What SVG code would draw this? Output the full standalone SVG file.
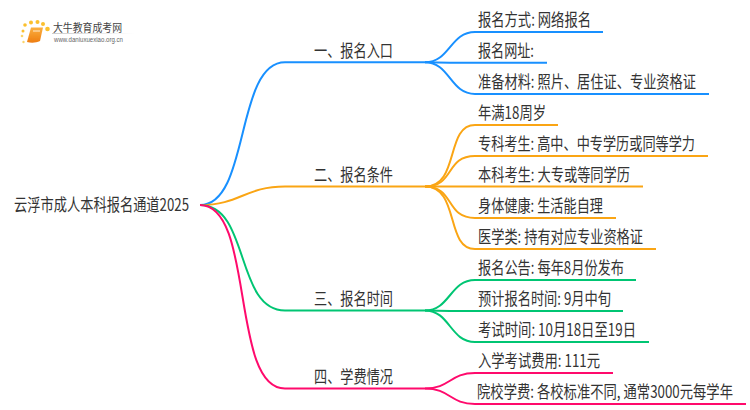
<svg xmlns="http://www.w3.org/2000/svg" width="750" height="410" viewBox="0 0 750 410">
<style>
text{font-family:"Noto Sans CJK SC","Noto Sans",sans-serif;fill:#333;font-size:17px}
.c{fill:none;stroke-width:2}
.b{stroke:#1890ff}.o{stroke:#faa514}.g{stroke:#00c573}.p{stroke:#ff0a6c}
</style>
<defs>
<linearGradient id="bk" x1="0" y1="0" x2="0" y2="1"><stop offset="0" stop-color="#fbb040"/><stop offset="1" stop-color="#ee7d11"/></linearGradient>
<linearGradient id="fade" x1="0" y1="0" x2="1" y2="0"><stop offset="0" stop-color="#ccc"/><stop offset="1" stop-color="#fff"/></linearGradient>
<filter id="soft" x="-10%" y="-10%" width="120%" height="120%"><feGaussianBlur stdDeviation="0.45"/></filter>
</defs>
<rect width="750" height="410" fill="#fff"/>
<g id="connectors">
<path class="c b" d="M200 205C250 205 235 62.300 285 62.300H425"/>
<path class="c o" d="M200 205C240 205 245 186.500 285 186.500H425"/>
<path class="c g" d="M200 205C250 205 235 310.500 285 310.500H425"/>
<path class="c p" d="M200 205C255 205 230 388.500 285 388.500H425"/>
<path class="c b" d="M425 62.300C450 62.300 450 32 475 32H603"/>
<path class="c b" d="M425 62.300Q450 62.800 475 62.800H547"/>
<path class="c b" d="M425 62.300C450 62.300 450 94 475 94H709"/>
<path class="c o" d="M425 186.500C460 186.500 445 125 475 125H558"/>
<path class="c o" d="M425 186.500C455 186.500 445 156 475 156H708"/>
<path class="c o" d="M425 186.500H643"/>
<path class="c o" d="M425 186.500C455 186.500 445 218 475 218H616"/>
<path class="c o" d="M425 186.500C460 186.500 445 249 475 249H656"/>
<path class="c g" d="M425 310.500C450 310.500 450 280 475 280H636"/>
<path class="c g" d="M425 310.500Q450 311 475 311H623"/>
<path class="c g" d="M425 310.500C450 310.500 450 342 475 342H649"/>
<path class="c p" d="M425 388.500C450 388.500 450 373 475 373H613"/>
<path class="c p" d="M425 388.500C450 388.500 450 404 475 404H746"/>
</g>
<g id="logo">
<g filter="url(#soft)">
<circle cx="25" cy="25" r="1.800" fill="#fbc02d"/><circle cx="31" cy="22.500" r="2" fill="#fbc02d"/><circle cx="37.500" cy="22" r="2" fill="#fbc02d"/><circle cx="43" cy="24" r="2" fill="#fbc02d"/><circle cx="47.500" cy="29" r="2.300" fill="#fbc02d"/><circle cx="23" cy="31" r="1.500" fill="#fbc02d"/><circle cx="22" cy="36" r="1.300" fill="#fbd56a"/><circle cx="23.500" cy="42" r="1.200" fill="#fbd56a"/>
<path d="M31 27.500H43L40 41C36 43 31 43 27 42Z" fill="url(#bk)"/>
<path d="M33 31H40" stroke="#fff" stroke-width="0.800" fill="none"/>
</g>
<rect x="52" y="33" width="82" height="1" fill="url(#fade)"/>
<text x="53" y="32" style="font-size:11.500px;fill:#444" textLength="69" lengthAdjust="spacingAndGlyphs">大牛教育成考网</text>
<text x="54" y="42" style="font-size:6.500px;fill:#666;font-family:'Liberation Sans',sans-serif" textLength="69" lengthAdjust="spacingAndGlyphs">www.daniuxuexiao.org.cn</text>
</g>
<g id="root"><text x="14" y="211" textLength="175" lengthAdjust="spacingAndGlyphs">云浮市成人本科报名通道2025</text></g>
<g id="n1"><text x="314" y="57" textLength="79" lengthAdjust="spacingAndGlyphs">一、报名入口</text></g>
<g id="n2"><text x="314" y="181" textLength="79" lengthAdjust="spacingAndGlyphs">二、报名条件</text></g>
<g id="n3"><text x="314" y="305" textLength="79" lengthAdjust="spacingAndGlyphs">三、报名时间</text></g>
<g id="n4"><text x="314" y="383" textLength="79" lengthAdjust="spacingAndGlyphs">四、学费情况</text></g>
<g id="l1"><text x="478" y="26" textLength="113" lengthAdjust="spacingAndGlyphs">报名方式: 网络报名</text></g>
<g id="l2"><text x="478" y="57" textLength="56" lengthAdjust="spacingAndGlyphs">报名网址:</text></g>
<g id="l3"><text transform="matrix(.78 0 0 1 478 88)" textLength="279.500" lengthAdjust="spacingAndGlyphs">准备材料: 照片、居住证、专业资格证</text></g>
<g id="l4"><text x="478" y="119" textLength="68" lengthAdjust="spacingAndGlyphs">年满18周岁</text></g>
<g id="l5"><text transform="matrix(.78 0 0 1 478 150)" textLength="278.200" lengthAdjust="spacingAndGlyphs">专科考生: 高中、中专学历或同等学力</text></g>
<g id="l6"><text x="478" y="181" textLength="152" lengthAdjust="spacingAndGlyphs">本科考生: 大专或等同学历</text></g>
<g id="l7"><text x="478" y="212" textLength="125" lengthAdjust="spacingAndGlyphs">身体健康: 生活能自理</text></g>
<g id="l8"><text x="478" y="243" textLength="165" lengthAdjust="spacingAndGlyphs">医学类: 持有对应专业资格证</text></g>
<g id="l9"><text x="478" y="274" textLength="146" lengthAdjust="spacingAndGlyphs">报名公告: 每年8月份发布</text></g>
<g id="l10"><text x="478" y="305" textLength="133" lengthAdjust="spacingAndGlyphs">预计报名时间: 9月中旬</text></g>
<g id="l11"><text x="478" y="336" textLength="158" lengthAdjust="spacingAndGlyphs">考试时间: 10月18日至19日</text></g>
<g id="l12"><text x="478" y="367" textLength="122" lengthAdjust="spacingAndGlyphs">入学考试费用: 111元</text></g>
<g id="l13"><text transform="matrix(.78 0 0 1 477 398)" textLength="328.200" lengthAdjust="spacingAndGlyphs">院校学费: 各校标准不同, 通常3000元每学年</text></g>
</svg>
